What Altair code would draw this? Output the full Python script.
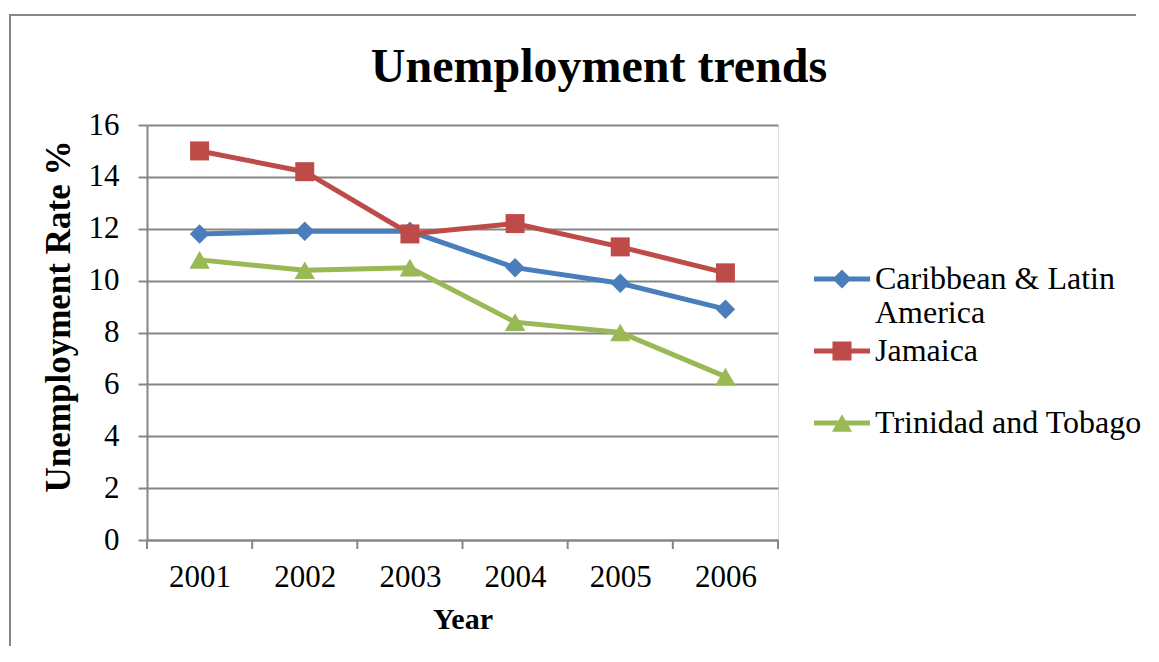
import altair as alt
import pandas as pd

# ---- data ----
years = [2001, 2002, 2003, 2004, 2005, 2006]
series_names = ["Caribbean & Latin America", "Jamaica", "Trinidad and Tobago"]
caribbean = [11.8, 11.9, 11.9, 10.5, 9.9, 8.9]
jamaica = [15.0, 14.2, 11.8, 12.2, 11.3, 10.3]
trinidad = [10.8, 10.4, 10.5, 8.4, 8.0, 6.3]
y_tick_values = [0, 2, 4, 6, 8, 10, 12, 14, 16]
category_bounds = [2000.5, 2001.5, 2002.5, 2003.5, 2004.5, 2005.5, 2006.5]
chart_title = "Unemployment trends"

# ---- styles ----
colors = ["#4A7EBB", "#BE4B48", "#98B954"]
marker_shapes = ["diamond", "square", "triangle-up"]
marker_sizes = [380, 361, 420]
# legend symbols: line segment with marker (unit = 14 px)
legend_paths = [
    "M-2,-0.18 L-0.5,-0.18 L0,-0.68 L0.5,-0.18 L2,-0.18 L2,0.18 L0.5,0.18 L0,0.68 L-0.5,0.18 L-2,0.18 Z",
    "M-2,-0.18 L-0.68,-0.18 L-0.68,-0.68 L0.68,-0.68 L0.68,-0.18 L2,-0.18 L2,0.18 L0.68,0.18 L0.68,0.68 L-0.68,0.68 L-0.68,0.18 L-2,0.18 Z",
    "M-2,-0.18 L-0.252,-0.18 L0,-0.62 L0.252,-0.18 L2,-0.18 L2,0.18 L0.458,0.18 L0.71,0.62 L-0.71,0.62 L-0.458,0.18 L-2,0.18 Z",
]

FONT = "Liberation Serif"
GRID = "#868686"
W, H = 631, 415
PAD_L, PAD_T, PAD_R, PAD_B = 139, 117, 370, 106

rows = []
for name, vals in zip(series_names, [caribbean, jamaica, trinidad]):
    for yr, v in zip(years, vals):
        rows.append({"year": yr, "rate": v, "series": name})
df = pd.DataFrame(rows)

x_enc = alt.X(
    "year:Q",
    scale=alt.Scale(domain=[category_bounds[0], category_bounds[-1]], nice=False, zero=False),
    axis=alt.Axis(
        values=years, format="d", ticks=False, tickSize=0, grid=False,
        domainColor=GRID, domainWidth=2, labelFlush=False,
        labelFont=FONT, labelFontSize=31, labelColor="black", labelPadding=22,
        title="Year", titleFont=FONT, titleFontSize=30, titleFontWeight="bold",
        titleColor="black", titlePadding=12,
    ),
)
y_enc = alt.Y(
    "rate:Q",
    scale=alt.Scale(domain=[0, 16], nice=False),
    axis=alt.Axis(
        values=y_tick_values, grid=True, gridColor=GRID, gridWidth=2,
        domainColor=GRID, domainWidth=2, tickColor=GRID, tickWidth=2, tickSize=9,
        labelFont=FONT, labelFontSize=31, labelColor="black", labelPadding=19,
        title="Unemployment Rate %", titleFont=FONT, titleFontSize=35,
        titleFontWeight="bold", titleColor="black", titlePadding=12, titleY=191,
    ),
)

one_row = pd.DataFrame({"t": [chart_title]})

# outer chart border (top and left edges are the visible ones)
frame_top = alt.Chart(one_row).mark_rule(color=GRID, strokeWidth=2).encode(
    x=alt.value(-137), x2=alt.value(W + PAD_R - 12), y=alt.value(-110)
)
frame_left = alt.Chart(one_row).mark_rule(color=GRID, strokeWidth=2).encode(
    x=alt.value(-137), y=alt.value(-111), y2=alt.value(H + PAD_B)
)

title_text = alt.Chart(one_row).mark_text(
    font=FONT, fontSize=48, fontWeight="bold", color="black", align="center", baseline="alphabetic"
).encode(text="t:N", x=alt.value(452), y=alt.value(-43))

ticks = alt.Chart(pd.DataFrame({"year": category_bounds})).mark_rule(
    color=GRID, strokeWidth=2
).encode(x=x_enc, y=alt.value(H), y2=alt.value(H + 9))

layers = [frame_top, frame_left, ticks]
for name, col, shp, sz in zip(series_names, colors, marker_shapes, marker_sizes):
    base = alt.Chart(df).transform_filter(alt.datum.series == name)
    layers.append(base.mark_line(color=col, strokeWidth=5).encode(x=x_enc, y=y_enc))
    layers.append(
        base.mark_point(shape=shp, size=sz, filled=True, color=col, opacity=1).encode(x=x_enc, y=y_enc)
    )

legend_layer = alt.Chart(df).transform_filter("false").mark_point(filled=True, opacity=1).encode(
    x=x_enc,
    y=y_enc,
    color=alt.Color("series:N", scale=alt.Scale(domain=series_names, range=colors), title=None),
    shape=alt.Shape(
        "series:N",
        scale=alt.Scale(domain=series_names, range=legend_paths),
        title=None,
        legend=alt.Legend(
            orient="none", legendX=679, legendY=138, padding=0,
            symbolSize=784, symbolStrokeWidth=0, symbolOpacity=1,
            labelFont=FONT, labelFontSize=32, labelColor="black", labelOffset=17,
            labelLimit=500, rowPadding=6, gridAlign="all",
            labelExpr="datum.label == 'Caribbean & Latin America' ? ['Caribbean & Latin', 'America'] : datum.label",
        ),
    ),
)
layers.append(legend_layer)
layers.append(title_text)

chart = alt.layer(*layers).properties(
    width=W,
    height=H,
    padding={"left": PAD_L, "top": PAD_T, "right": PAD_R, "bottom": PAD_B},
    autosize=alt.AutoSizeParams(type="none"),
).configure_view(strokeWidth=0).configure(background="white")

chart.save("out.html", embed_options={"renderer": "svg", "actions": False})
